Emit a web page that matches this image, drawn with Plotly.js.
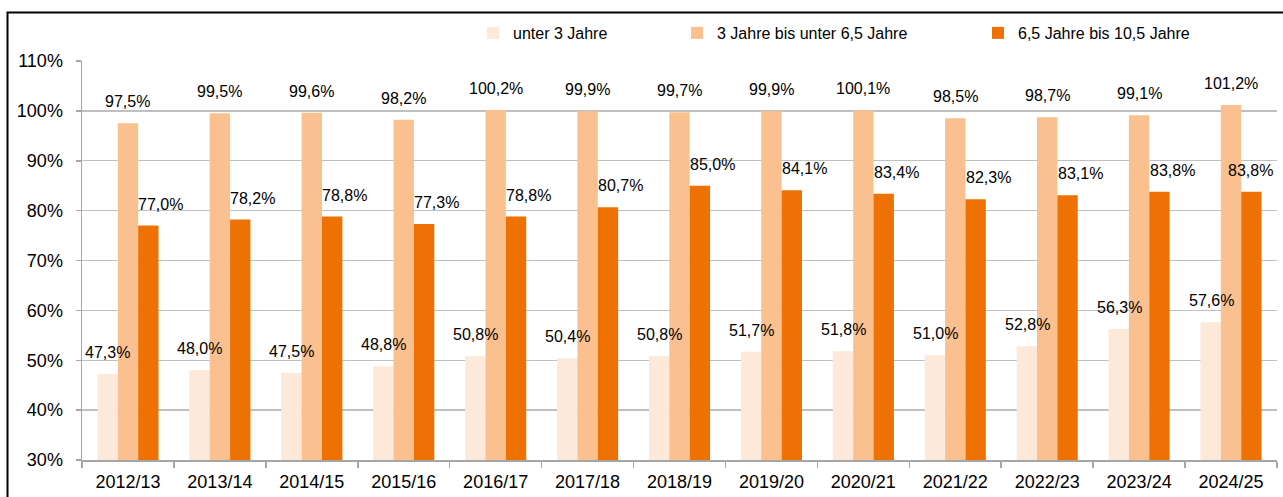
<!DOCTYPE html>
<html>
<head>
<meta charset="utf-8">
<script src="https://cdn.plot.ly/plotly-3.0.1.min.js"></script>
<style>
  html, body { margin: 0; padding: 0; background: #ffffff; }
  #chart { width: 1283px; height: 497px; }
</style>
</head>
<body>
<div id="chart"></div>
<script>
const categories = ["2012/13","2013/14","2014/15","2015/16","2016/17","2017/18","2018/19","2019/20","2020/21","2021/22","2022/23","2023/24","2024/25"];
const seriesNames = ["unter 3 Jahre", "3 Jahre bis unter 6,5 Jahre", "6,5 Jahre bis 10,5 Jahre"];
const unter3 = [47.3, 48.0, 47.5, 48.8, 50.8, 50.4, 50.8, 51.7, 51.8, 51.0, 52.8, 56.3, 57.6];
const von3bis65 = [97.5, 99.5, 99.6, 98.2, 100.2, 99.9, 99.7, 99.9, 100.1, 98.5, 98.7, 99.1, 101.2];
const von65bis105 = [77.0, 78.2, 78.8, 77.3, 78.8, 80.7, 85.0, 84.1, 83.4, 82.3, 83.1, 83.8, 83.8];
const yTickValues = [30, 40, 50, 60, 70, 80, 90, 100, 110];

const seriesValues = [unter3, von3bis65, von65bis105];
const colors = ["#FDE9D9", "#FAC090", "#EE7203"];
const legendIds = ["legend", "legend2", "legend3"];
const labelXShift = [-20, 0, 33];

const FONT = '"Liberation Sans", Arial, sans-serif';
const fmt = v => v.toFixed(1).replace('.', ',') + '%';

const W = 1283, H = 497;
const M = { l: 82, r: 6, t: 61, b: 37 };
const plotW = W - M.l - M.r;
const catW = plotW / categories.length;
const LABEL_HALF = 24;

const traces = seriesValues.map((vals, i) => ({
  type: 'bar',
  name: seriesNames[i],
  x: categories,
  y: vals.map(v => v - 30),
  base: 30,
  marker: { color: colors[i], line: { width: 0 } },
  legend: legendIds[i],
  hoverinfo: 'skip'
}));

const annotations = [];
seriesValues.forEach((vals, i) => {
  vals.forEach((v, j) => {
    // keep each label inside the plotting area
    const centre = (j + 0.5) * catW;
    const maxShift = plotW - 3 - LABEL_HALF - centre;
    const shift = Math.min(labelXShift[i], maxShift);
    annotations.push({
      x: categories[j], y: v, xref: 'x', yref: 'y',
      text: fmt(v), showarrow: false,
      xanchor: 'center', yanchor: 'bottom',
      xshift: shift, yshift: 11,
      font: { family: FONT, size: 16, color: '#000000' }
    });
  });
});

const legendBase = { orientation: 'h', xref: 'container', yref: 'container',
  yanchor: 'middle', y: 1 - 33 / H, xanchor: 'left',
  bgcolor: 'rgba(0,0,0,0)', font: { family: FONT, size: 16, color: '#000' } };

const layout = {
  width: W, height: H,
  margin: { l: M.l, r: M.r, t: M.t, b: M.b, autoexpand: false },
  paper_bgcolor: '#ffffff', plot_bgcolor: '#ffffff',
  font: { family: FONT, color: '#000000' },
  barmode: 'group', bargap: 0.335, bargroupgap: 0,
  showlegend: true,
  legend: Object.assign({}, legendBase, { x: 473 / W }),
  legend2: Object.assign({}, legendBase, { x: 677 / W }),
  legend3: Object.assign({}, legendBase, { x: 978 / W }),
  xaxis: {
    type: 'category', range: [-0.5, categories.length - 0.5], autorange: false,
    tickson: 'boundaries', ticks: 'outside', ticklen: 6, tickcolor: '#a6a6a6', tickwidth: 1.5,
    showline: true, linecolor: '#a6a6a6', linewidth: 1.5,
    showgrid: false, zeroline: false,
    tickfont: { family: FONT, size: 18, color: '#000' },
    ticklabelstandoff: 5
  },
  yaxis: {
    range: [30, 110], autorange: false, tickvals: yTickValues, ticktext: yTickValues.map(v => v + '%'),
    ticks: 'outside', ticklen: 5, tickcolor: '#a6a6a6', tickwidth: 1.5,
    showline: true, linecolor: '#a6a6a6', linewidth: 1.5,
    showgrid: true, gridcolor: '#c0c0c0', gridwidth: 1.3, zeroline: false,
    tickfont: { family: FONT, size: 18, color: '#000' },
    ticklabelstandoff: 9
  },
  annotations: annotations,
  shapes: [{
    type: 'rect', xref: 'paper', yref: 'paper',
    x0: (7.5 - 82) / 1195, x1: 1.2, y0: 1 + (61 - 12.5) / 399, y1: -0.3,
    line: { color: '#000000', width: 2 }, fillcolor: 'rgba(0,0,0,0)', layer: 'above'
  }]
};

Plotly.newPlot('chart', traces, layout, { displayModeBar: false, staticPlot: true });
</script>
</body>
</html>
